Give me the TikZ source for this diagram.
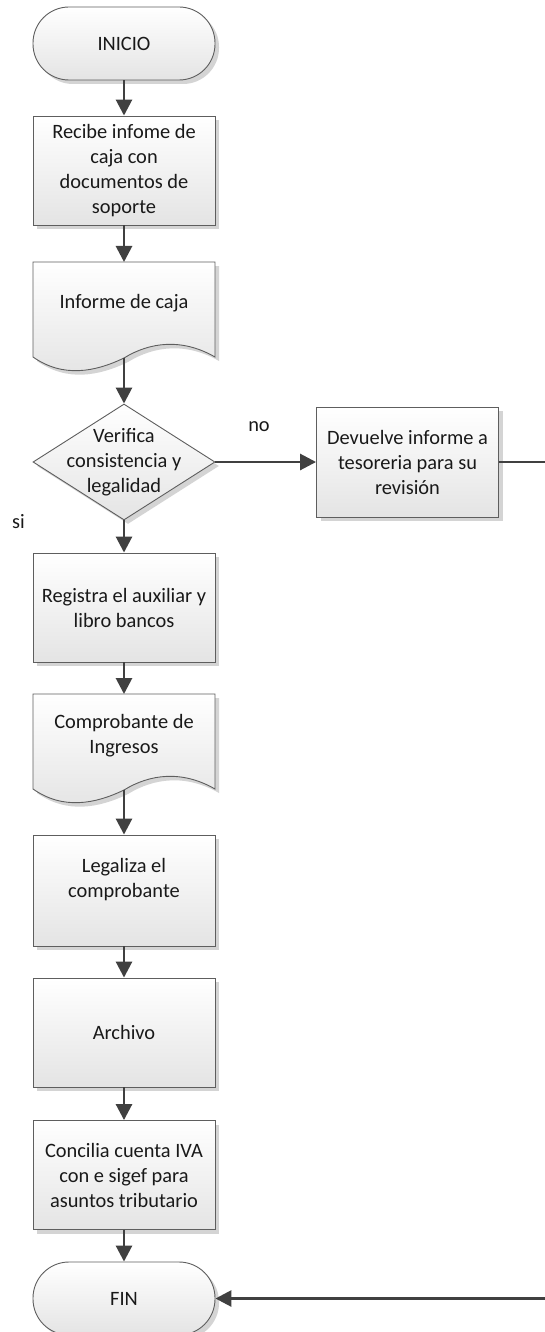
\documentclass[tikz,border=0pt]{standalone}
\usepackage{fontspec}
\setmainfont{Carlito}
\usetikzlibrary{arrows.meta,shadows,shapes.geometric}

\definecolor{edgegray}{HTML}{5E5E5E}
\definecolor{flowgray}{HTML}{404040}
\definecolor{boxbottom}{HTML}{E4E4E4}
\definecolor{shadowgray}{HTML}{D4D4D4}

\tikzset{
  label text/.style={font=\fontsize{20.4}{25}\selectfont, text=black!90, align=center},
  fillbox/.style={draw=edgegray, line width=0.9pt, top color=white, bottom color=boxbottom,
    drop shadow={shadow xshift=4pt, shadow yshift=-4pt, fill=shadowgray, opacity=1}},
  procbox/.style={fillbox, rectangle, minimum width=182pt, minimum height=109pt, inner sep=0pt, label text},
  termbox/.style={fillbox, rectangle, rounded corners=36pt, minimum width=182pt, minimum height=73pt, inner sep=0pt, label text},
  decisionbox/.style={fillbox, diamond, minimum width=182pt, minimum height=116pt, inner sep=0pt},
  flowarrow/.style={draw=flowgray, line width=2.8pt, -{Triangle[length=16pt,width=16pt]}},
}

\begin{document}
\begin{tikzpicture}[x=1pt, y=-1pt]
  \useasboundingbox (0,0) rectangle (544,1332);
  \fill[white] (0,0) rectangle (544,1332);

  % start / end terminals
  \node[termbox] (ini) at (124,43.5) {INICIO};
  \node[termbox] (fin) at (124,1298.5) {FIN};

  % process steps
  \node[procbox] (rec) at (124,170.5) {Recibe infome de\\caja con\\documentos de\\soporte};
  \node[procbox, minimum height=110pt] (dev) at (407.5,462) {Devuelve informe a\\tesoreria para su\\revisión};
  \node[procbox] (reg) at (124,607.5) {Registra el auxiliar y\\libro bancos};
  \node[procbox, minimum height=111pt] (leg) at (124,890.5) {};
  \node[label text] (legtxt) at (124,879.5) {Legaliza el\\comprobante};
  \node[procbox] (arc) at (124,1032.5) {Archivo};
  \node[procbox] (con) at (124,1175) {Concilia cuenta IVA\\con e sigef para\\asuntos tributario};

  % document shapes (wavy bottom edge)
  \path[fillbox] (33,262) -- (215,262) -- (215,357)
    .. controls (182,338) and (150,342) .. (124,358)
    .. controls (95,372) and (63,378) .. (33,357) -- cycle;
  \node[label text] (doc1) at (124,303) {Informe de caja};
  \coordinate (doc1top) at (124,262);
  \coordinate (doc1bot) at (124,358);

  \path[fillbox] (33,694) -- (215,694) -- (215,789)
    .. controls (182,770) and (150,774) .. (124,790)
    .. controls (95,804) and (63,810) .. (33,789) -- cycle;
  \node[label text] (doc2) at (124,735.5) {Comprobante de\\Ingresos};
  \coordinate (doc2top) at (124,694);
  \coordinate (doc2bot) at (124,790);

  % decision
  \node[decisionbox] (dec) at (124,462) {};
  \node[label text] (dectxt) at (124,462) {Verifica\\consistencia y\\legalidad};

  % branch labels
  \node[label text] (lblno) at (259,427) {no};
  \node[label text] (lblsi) at (18.5,521.5) {si};

  % return path running along the right edge
  \coordinate (rt) at (552,462);
  \coordinate (rb) at (552,1298.5);

  % connectors
  \draw[flowarrow] (ini) -- (rec);
  \draw[flowarrow] (rec) -- (doc1top);
  \draw[flowarrow] (doc1bot) -- (dec);
  \draw[flowarrow] (dec.east) -- (dev.west);
  \draw[flowarrow] (dec) -- (reg);
  \draw[flowarrow] (reg) -- (doc2top);
  \draw[flowarrow] (doc2bot) -- (leg);
  \draw[flowarrow] (leg) -- (arc);
  \draw[flowarrow] (arc) -- (con);
  \draw[flowarrow] (con) -- (fin);
  \draw[flowarrow] (dev.east) -- (rt) -- (rb) -- (fin.east);
\end{tikzpicture}
\end{document}
